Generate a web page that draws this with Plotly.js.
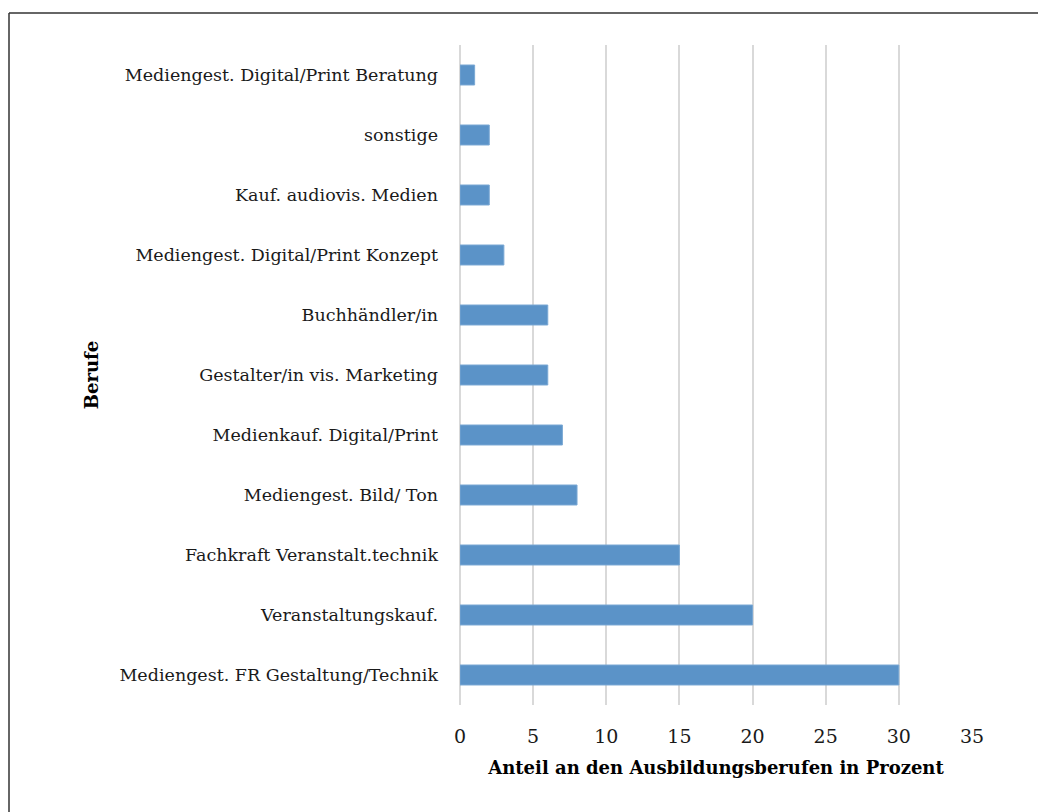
<!DOCTYPE html>
<html>
<head>
<meta charset="utf-8">
<script src="https://cdn.plot.ly/plotly-3.0.1.min.js"></script>
<style>
html,body{margin:0;padding:0;background:#fff;}
#chart{width:1038px;height:812px;}
</style>
</head>
<body>
<div id="chart"></div>
<script>
const categories = [
  "Mediengest. FR Gestaltung/Technik",
  "Veranstaltungskauf.",
  "Fachkraft Veranstalt.technik",
  "Mediengest. Bild/ Ton",
  "Medienkauf. Digital/Print",
  "Gestalter/in vis. Marketing",
  "Buchhändler/in",
  "Mediengest. Digital/Print Konzept",
  "Kauf. audiovis. Medien",
  "sonstige",
  "Mediengest. Digital/Print Beratung"
];
const values = [30, 20, 15, 8, 7, 6, 6, 3, 2, 2, 1];
const xTicks = [0, 5, 10, 15, 20, 25, 30, 35];
const xTitle = "Anteil an den Ausbildungsberufen in Prozent";
const yTitle = "Berufe";

const W = 1038, H = 812;
const mL = 460, mR = 66, mT = 45, mB = 107;
const pw = W - mL - mR, ph = H - mT - mB;
const fontFam = "DejaVu Serif, Liberation Serif, serif";

const data = [{
  type: "bar",
  orientation: "h",
  y: categories,
  x: values,
  marker: {color: "#5b93c8", line: {color: "#7aa8d4", width: 1}},
  hoverinfo: "x+y"
}];

const layout = {
  width: W, height: H,
  margin: {l: mL, r: mR, t: mT, b: mB, pad: 0},
  paper_bgcolor: "#fff",
  plot_bgcolor: "#fff",
  bargap: 0.667,
  showlegend: false,
  font: {family: fontFam, color: "#1a1a1a"},
  xaxis: {
    range: [0, 35],
    tickvals: xTicks,
    ticktext: xTicks.map(String),
    showgrid: true,
    gridcolor: "#d9d9d9",
    gridwidth: 2,
    zeroline: true,
    zerolinecolor: "#d9d9d9",
    zerolinewidth: 2,
    showline: false,
    ticks: "",
    ticklabelstandoff: 18,
    tickfont: {size: 19, family: fontFam, color: "#1a1a1a"},
    title: {text: "<b>" + xTitle + "</b>", font: {size: 18, family: fontFam, color: "#000"}, standoff: 15},
    fixedrange: true
  },
  yaxis: {
    type: "category",
    categoryorder: "array",
    categoryarray: categories,
    showgrid: false,
    zeroline: false,
    showline: false,
    ticks: "",
    ticklabelstandoff: 21,
    tickfont: {size: 17.5, family: fontFam, color: "#1a1a1a"},
    title: {text: "<b>" + yTitle + "</b>", font: {size: 18, family: fontFam, color: "#000"}, standoff: 16},
    fixedrange: true
  },
  shapes: [
    {type: "line", xref: "paper", yref: "paper",
     x0: (9 - mL) / pw, x1: (W + 5 - mL) / pw,
     y0: (H - mB - 13) / ph, y1: (H - mB - 13) / ph,
     line: {color: "#333", width: 1.5}},
    {type: "line", xref: "paper", yref: "paper",
     x0: (9 - mL) / pw, x1: (9 - mL) / pw,
     y0: (H - mB - 13) / ph, y1: (-mB - 5) / ph,
     line: {color: "#333", width: 1.5}}
  ]
};

Plotly.newPlot("chart", data, layout, {displayModeBar: false, staticPlot: true});
</script>
</body>
</html>
